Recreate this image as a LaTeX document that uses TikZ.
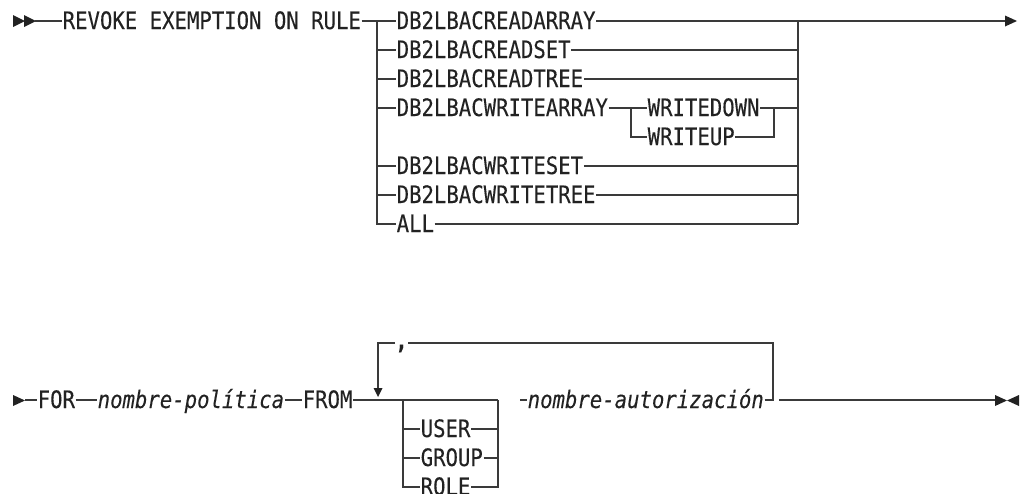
\documentclass[tikz,border=0pt]{standalone}
\usepackage{fontspec}
\newfontfamily\dmono[FakeStretch=0.86,FakeBold=0.2]{DejaVu Sans Mono}
\definecolor{linec}{HTML}{3A3A3A}
\definecolor{textc}{HTML}{222222}
\begin{document}
\begin{tikzpicture}[x=1pt,y=-1pt,
  kw/.style={anchor=west,inner xsep=0.5pt,inner ysep=0pt,text height=16pt,text depth=0pt,
    font=\dmono\fontsize{24}{24}\selectfont,text=textc},
  var/.style={kw,font=\dmono\itshape\fontsize{24}{24}\selectfont},
  rail/.style={draw=linec,line width=1.3pt},
  tip/.style={fill=textc}]
\useasboundingbox (0,0) rectangle (1022,493);

% ---------- row 1 ----------
\fill[tip] (13,15) -- (25,21) -- (13,27) -- cycle;
\fill[tip] (24,15) -- (36,21) -- (24,27) -- cycle;
\coordinate (s1) at (35,21);
\node[kw] (revoke) at (62,21) {REVOKE EXEMPTION ON RULE};
\coordinate (bL) at (377,21);
\coordinate (bR) at (798,21);
\node[kw] (r1) at (396,21) {DB2LBACREADARRAY};
\node[kw] (r2) at (396,50) {DB2LBACREADSET};
\node[kw] (r3) at (396,79) {DB2LBACREADTREE};
\node[kw] (r4) at (396,108) {DB2LBACWRITEARRAY};
\node[kw] (r5) at (396,166) {DB2LBACWRITESET};
\node[kw] (r6) at (396,195) {DB2LBACWRITETREE};
\node[kw] (r7) at (396,224) {ALL};
\coordinate (iL) at (631,108);
\coordinate (iR) at (774,108);
\node[kw] (wd) at (647,108) {WRITEDOWN};
\node[kw] (wu) at (647,137) {WRITEUP};
\coordinate (e1) at (1005,21);

\draw[rail] (s1) -- (revoke.west);
\draw[rail] (revoke.east) -- (r1.west);
\draw[rail] (bL) |- (r7.west);
\foreach \r in {r2,r3,r4,r5,r6}{\draw[rail] (\r.west -| bL) -- (\r.west);}
\foreach \r in {r1,r2,r3,r5,r6,r7}{\draw[rail] (\r.east) -- (\r.east -| bR);}
\draw[rail] (bR) -- (bR |- r7.east);
\draw[rail] (r4.east) -- (wd.west);
\draw[rail] (wd.east) -- (wd.east -| bR);
\draw[rail] (iL) |- (wu.west);
\draw[rail] (wu.east) -| (iR);
\draw[rail] (bR) -- (e1);
\fill[tip] (1005,15.5) -- (1017,21) -- (1005,26.5) -- cycle;

% ---------- row 2 ----------
\fill[tip] (13,395) -- (25,400.5) -- (13,406) -- cycle;
\coordinate (s2) at (25,400);
\node[kw] (for) at (37,400) {FOR};
\node[var] (pol) at (97,400) {nombre-política};
\node[kw] (from) at (302,400) {FROM};
\coordinate (cL) at (403,400);
\coordinate (cR) at (498,400);
\node[kw] (u1) at (420,429) {USER};
\node[kw] (u2) at (420,458) {GROUP};
\node[kw] (u3) at (420,487) {ROLE};
\coordinate (g1) at (520,400);
\node[var] (auth) at (527,400) {nombre-autorización};
\coordinate (lR) at (773,400);
\coordinate (lTR) at (773,343);
\coordinate (lTL) at (378,343);
\coordinate (lA) at (378,389);
\node[kw,anchor=base,font=\dmono\bfseries\fontsize{24}{24}\selectfont] (comma) at (401.5,349) {,};
\coordinate (g2) at (779,400);
\coordinate (e2) at (995,400);

\draw[rail] (s2) -- (for.west);
\draw[rail] (for.east) -- (pol.west);
\draw[rail] (pol.east) -- (from.west);
\draw[rail] (from.east) -- (cR);
\draw[rail] (cL) |- (u3.west);
\draw[rail] (u1.west -| cL) -- (u1.west);
\draw[rail] (u2.west -| cL) -- (u2.west);
\draw[rail] (u1.east) -- (u1.east -| cR);
\draw[rail] (u2.east) -- (u2.east -| cR);
\draw[rail] (u3.east) -| (cR);
\draw[rail] (g1) -- (auth.west);
\draw[rail] (auth.east) -- (lR) -- (lTR) -- (408,343);
\draw[rail] (395,343) -- (lTL) -- (lA);
\fill[tip] (373.5,388) -- (382.5,388) -- (378,397) -- cycle;
\draw[rail] (g2) -- (e2);
\fill[tip] (995,395) -- (1007,400.5) -- (995,406) -- cycle;
\fill[tip] (1019,395) -- (1007,400.5) -- (1019,406) -- cycle;
\end{tikzpicture}
\end{document}
